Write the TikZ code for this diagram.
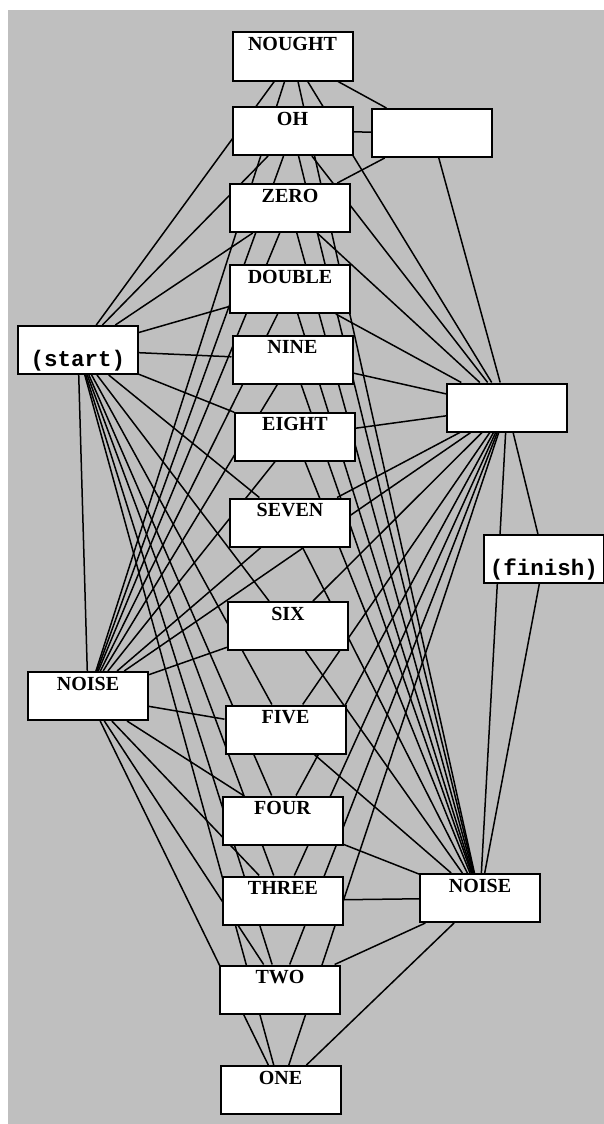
\documentclass[tikz,border=0pt]{standalone}
\usepackage{fontspec}
\setmainfont{Liberation Serif}
\setmonofont{Liberation Mono}
\usetikzlibrary{backgrounds}

\begin{document}
\begin{tikzpicture}[x=1pt, y=-1pt, thick,
    word node/.style={rectangle, draw, line width=2pt, fill=white, minimum width=120pt, minimum height=48pt,
        inner ysep=0pt, text height=18pt, text depth=30pt, font=\bfseries\fontsize{20}{21}\selectfont},
    null node/.style={word node, text height=0pt, text depth=0pt},
    end node/.style={word node, text height=40pt, text depth=8pt, font=\ttfamily\bfseries\fontsize{22.5}{23}\selectfont},
    link/.style={line width=1.5pt}]
\useasboundingbox (0,0) rectangle (604,1124);

% word column
\node[word node] (nought) at (292.5,56.5) {NOUGHT};
\node[word node] (oh)     at (292.5,131)  {OH};
\node[word node] (zero)   at (290,208)    {ZERO};
\node[word node] (double) at (290,289)    {DOUBLE};
\node[word node] (nine)   at (292.5,359.5) {NINE};
\node[word node] (eight)  at (295,436.5)  {EIGHT};
\node[word node] (seven)  at (290,522.5)  {SEVEN};
\node[word node] (six)    at (288,626)    {SIX};
\node[word node] (five)   at (285.5,729.5) {FIVE};
\node[word node] (four)   at (282.5,820.5) {FOUR};
\node[word node] (three)  at (283,900.5)  {THREE};
\node[word node] (two)    at (280,989.5)  {TWO};
\node[word node] (one)    at (280.5,1090) {ONE};

% entry and exit
\node[end node] (start)  at (78,350)   {(start)};
\node[word node] (noiseL) at (88,696)  {NOISE};
\node[null node] (hubTop) at (432,133) {};
\node[null node] (hubMid) at (507,407.5) {};
\node[end node] (finish) at (544,559)  {(finish)};
\node[word node] (noiseR) at (480,898) {NOISE};

\begin{scope}[on background layer]
\fill[white] (0,0) rectangle (604,1124);
\fill[black!25] (8,10) rectangle (604,1124);
\foreach \w in {nought,oh,zero,double,nine,eight,seven,six,five,four,three,two,one}
    \foreach \h in {start,noiseL,hubMid,noiseR}
        \draw[link] (\h) -- (\w);
\draw[link] (start) -- (noiseL);
\draw[link] (noiseL) -- (hubMid);
\foreach \w in {nought,oh,zero,hubMid}
    \draw[link] (hubTop) -- (\w);
\draw[link] (hubMid) -- (finish);
\draw[link] (hubMid) -- (noiseR);
\draw[link] (finish) -- (noiseR);
\end{scope}
\end{tikzpicture}
\end{document}
